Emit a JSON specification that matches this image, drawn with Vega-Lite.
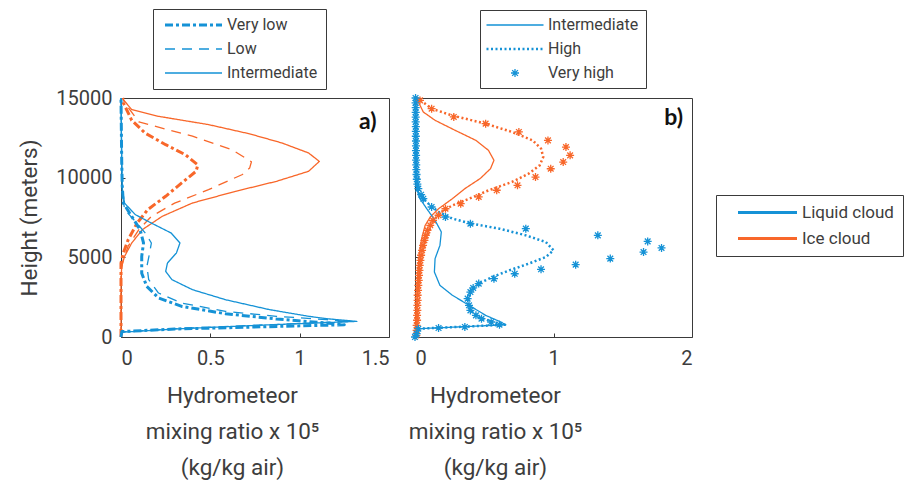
{
  "$schema": "https://vega.github.io/schema/vega-lite/v6.json",
  "autosize": {"type": "none"},
  "padding": {"left": 121, "top": 98, "right": 791, "bottom": 391},
  "background": "white",
  "spacing": 26,
  "bounds": "flush",
  "config": {
    "font": "Roboto",
    "view": {"stroke": "#3a3a3a", "strokeWidth": 1},
    "axis": {"domain": false, "grid": false, "ticks": true, "tickSize": -4, "tickColor": "#3a3a3a", "labelFont": "Roboto", "labelFontSize": 20, "labelColor": "#3d3d3d", "titleFont": "Roboto", "titleFontSize": 22.5, "titleColor": "#3d3d3d", "titleFontWeight": "normal"},
    "legend": {"labelFont": "Roboto", "labelColor": "#3d3d3d", "strokeColor": "#3a3a3a", "fillColor": "white"}
  },
  "datasets": {
    "a": [
      {"phase": "Ice cloud", "scenario": "Intermediate", "h": 15000, "x": 0.01},
      {"phase": "Ice cloud", "scenario": "Intermediate", "h": 14900, "x": 0.013},
      {"phase": "Ice cloud", "scenario": "Intermediate", "h": 14270, "x": 0.06},
      {"phase": "Ice cloud", "scenario": "Intermediate", "h": 13850, "x": 0.21},
      {"phase": "Ice cloud", "scenario": "Intermediate", "h": 13330, "x": 0.49},
      {"phase": "Ice cloud", "scenario": "Intermediate", "h": 12750, "x": 0.72},
      {"phase": "Ice cloud", "scenario": "Intermediate", "h": 12180, "x": 0.9},
      {"phase": "Ice cloud", "scenario": "Intermediate", "h": 11550, "x": 1.05},
      {"phase": "Ice cloud", "scenario": "Intermediate", "h": 11020, "x": 1.11},
      {"phase": "Ice cloud", "scenario": "Intermediate", "h": 10400, "x": 1.05},
      {"phase": "Ice cloud", "scenario": "Intermediate", "h": 9770, "x": 0.87},
      {"phase": "Ice cloud", "scenario": "Intermediate", "h": 9140, "x": 0.64},
      {"phase": "Ice cloud", "scenario": "Intermediate", "h": 8410, "x": 0.4},
      {"phase": "Ice cloud", "scenario": "Intermediate", "h": 7570, "x": 0.23},
      {"phase": "Ice cloud", "scenario": "Intermediate", "h": 6740, "x": 0.12},
      {"phase": "Ice cloud", "scenario": "Intermediate", "h": 5900, "x": 0.06},
      {"phase": "Ice cloud", "scenario": "Intermediate", "h": 5060, "x": 0.02},
      {"phase": "Ice cloud", "scenario": "Intermediate", "h": 4440, "x": 0.004},
      {"phase": "Ice cloud", "scenario": "Intermediate", "h": 3500, "x": 0},
      {"phase": "Ice cloud", "scenario": "Intermediate", "h": 2000, "x": 0},
      {"phase": "Ice cloud", "scenario": "Intermediate", "h": 0, "x": 0},
      {"phase": "Ice cloud", "scenario": "Low", "h": 15000, "x": 0.01},
      {"phase": "Ice cloud", "scenario": "Low", "h": 14700, "x": 0.02},
      {"phase": "Ice cloud", "scenario": "Low", "h": 13500, "x": 0.1},
      {"phase": "Ice cloud", "scenario": "Low", "h": 12600, "x": 0.4},
      {"phase": "Ice cloud", "scenario": "Low", "h": 11760, "x": 0.62},
      {"phase": "Ice cloud", "scenario": "Low", "h": 11000, "x": 0.73},
      {"phase": "Ice cloud", "scenario": "Low", "h": 10600, "x": 0.72},
      {"phase": "Ice cloud", "scenario": "Low", "h": 10200, "x": 0.68},
      {"phase": "Ice cloud", "scenario": "Low", "h": 9250, "x": 0.49},
      {"phase": "Ice cloud", "scenario": "Low", "h": 8400, "x": 0.3},
      {"phase": "Ice cloud", "scenario": "Low", "h": 7570, "x": 0.17},
      {"phase": "Ice cloud", "scenario": "Low", "h": 6740, "x": 0.1},
      {"phase": "Ice cloud", "scenario": "Low", "h": 5700, "x": 0.04},
      {"phase": "Ice cloud", "scenario": "Low", "h": 4850, "x": 0.013},
      {"phase": "Ice cloud", "scenario": "Low", "h": 4200, "x": 0},
      {"phase": "Ice cloud", "scenario": "Low", "h": 2000, "x": 0},
      {"phase": "Ice cloud", "scenario": "Low", "h": 0, "x": 0},
      {"phase": "Ice cloud", "scenario": "Very low", "h": 15000, "x": 0.01},
      {"phase": "Ice cloud", "scenario": "Very low", "h": 14700, "x": 0.013},
      {"phase": "Ice cloud", "scenario": "Very low", "h": 13600, "x": 0.06},
      {"phase": "Ice cloud", "scenario": "Very low", "h": 12800, "x": 0.135},
      {"phase": "Ice cloud", "scenario": "Very low", "h": 12070, "x": 0.25},
      {"phase": "Ice cloud", "scenario": "Very low", "h": 11440, "x": 0.36},
      {"phase": "Ice cloud", "scenario": "Very low", "h": 10800, "x": 0.43},
      {"phase": "Ice cloud", "scenario": "Very low", "h": 10400, "x": 0.42},
      {"phase": "Ice cloud", "scenario": "Very low", "h": 9670, "x": 0.34},
      {"phase": "Ice cloud", "scenario": "Very low", "h": 8830, "x": 0.25},
      {"phase": "Ice cloud", "scenario": "Very low", "h": 8000, "x": 0.15},
      {"phase": "Ice cloud", "scenario": "Very low", "h": 7150, "x": 0.09},
      {"phase": "Ice cloud", "scenario": "Very low", "h": 6100, "x": 0.04},
      {"phase": "Ice cloud", "scenario": "Very low", "h": 5270, "x": 0.013},
      {"phase": "Ice cloud", "scenario": "Very low", "h": 4640, "x": 0},
      {"phase": "Ice cloud", "scenario": "Very low", "h": 2000, "x": 0},
      {"phase": "Ice cloud", "scenario": "Very low", "h": 0, "x": 0},
      {"phase": "Liquid cloud", "scenario": "Intermediate", "h": 0, "x": 0},
      {"phase": "Liquid cloud", "scenario": "Intermediate", "h": 300, "x": 0.005},
      {"phase": "Liquid cloud", "scenario": "Intermediate", "h": 500, "x": 0.3},
      {"phase": "Liquid cloud", "scenario": "Intermediate", "h": 750, "x": 0.8},
      {"phase": "Liquid cloud", "scenario": "Intermediate", "h": 980, "x": 1.32},
      {"phase": "Liquid cloud", "scenario": "Intermediate", "h": 1150, "x": 1.15},
      {"phase": "Liquid cloud", "scenario": "Intermediate", "h": 1300, "x": 1.05},
      {"phase": "Liquid cloud", "scenario": "Intermediate", "h": 1720, "x": 0.83},
      {"phase": "Liquid cloud", "scenario": "Intermediate", "h": 2340, "x": 0.585},
      {"phase": "Liquid cloud", "scenario": "Intermediate", "h": 2970, "x": 0.4},
      {"phase": "Liquid cloud", "scenario": "Intermediate", "h": 3600, "x": 0.285},
      {"phase": "Liquid cloud", "scenario": "Intermediate", "h": 4120, "x": 0.25},
      {"phase": "Liquid cloud", "scenario": "Intermediate", "h": 4640, "x": 0.26},
      {"phase": "Liquid cloud", "scenario": "Intermediate", "h": 5270, "x": 0.31},
      {"phase": "Liquid cloud", "scenario": "Intermediate", "h": 5900, "x": 0.33},
      {"phase": "Liquid cloud", "scenario": "Intermediate", "h": 6530, "x": 0.28},
      {"phase": "Liquid cloud", "scenario": "Intermediate", "h": 7150, "x": 0.17},
      {"phase": "Liquid cloud", "scenario": "Intermediate", "h": 7680, "x": 0.08},
      {"phase": "Liquid cloud", "scenario": "Intermediate", "h": 8400, "x": 0.02},
      {"phase": "Liquid cloud", "scenario": "Intermediate", "h": 9250, "x": 0.008},
      {"phase": "Liquid cloud", "scenario": "Intermediate", "h": 11000, "x": 0.004},
      {"phase": "Liquid cloud", "scenario": "Intermediate", "h": 13000, "x": 0.002},
      {"phase": "Liquid cloud", "scenario": "Intermediate", "h": 15000, "x": 0},
      {"phase": "Liquid cloud", "scenario": "Low", "h": 0, "x": 0},
      {"phase": "Liquid cloud", "scenario": "Low", "h": 320, "x": 0.005},
      {"phase": "Liquid cloud", "scenario": "Low", "h": 550, "x": 0.35},
      {"phase": "Liquid cloud", "scenario": "Low", "h": 780, "x": 0.85},
      {"phase": "Liquid cloud", "scenario": "Low", "h": 980, "x": 1.28},
      {"phase": "Liquid cloud", "scenario": "Low", "h": 1090, "x": 1.15},
      {"phase": "Liquid cloud", "scenario": "Low", "h": 1300, "x": 0.87},
      {"phase": "Liquid cloud", "scenario": "Low", "h": 1610, "x": 0.585},
      {"phase": "Liquid cloud", "scenario": "Low", "h": 2130, "x": 0.34},
      {"phase": "Liquid cloud", "scenario": "Low", "h": 2760, "x": 0.21},
      {"phase": "Liquid cloud", "scenario": "Low", "h": 3600, "x": 0.155},
      {"phase": "Liquid cloud", "scenario": "Low", "h": 4440, "x": 0.145},
      {"phase": "Liquid cloud", "scenario": "Low", "h": 5270, "x": 0.16},
      {"phase": "Liquid cloud", "scenario": "Low", "h": 5900, "x": 0.17},
      {"phase": "Liquid cloud", "scenario": "Low", "h": 6530, "x": 0.135},
      {"phase": "Liquid cloud", "scenario": "Low", "h": 7260, "x": 0.08},
      {"phase": "Liquid cloud", "scenario": "Low", "h": 8000, "x": 0.02},
      {"phase": "Liquid cloud", "scenario": "Low", "h": 9000, "x": 0.008},
      {"phase": "Liquid cloud", "scenario": "Low", "h": 11000, "x": 0.004},
      {"phase": "Liquid cloud", "scenario": "Low", "h": 13000, "x": 0.002},
      {"phase": "Liquid cloud", "scenario": "Low", "h": 15000, "x": 0},
      {"phase": "Liquid cloud", "scenario": "Very low", "h": 0, "x": 0},
      {"phase": "Liquid cloud", "scenario": "Very low", "h": 340, "x": 0.005},
      {"phase": "Liquid cloud", "scenario": "Very low", "h": 500, "x": 0.3},
      {"phase": "Liquid cloud", "scenario": "Very low", "h": 770, "x": 1.25},
      {"phase": "Liquid cloud", "scenario": "Very low", "h": 880, "x": 1.15},
      {"phase": "Liquid cloud", "scenario": "Very low", "h": 1130, "x": 0.87},
      {"phase": "Liquid cloud", "scenario": "Very low", "h": 1460, "x": 0.585},
      {"phase": "Liquid cloud", "scenario": "Very low", "h": 1920, "x": 0.34},
      {"phase": "Liquid cloud", "scenario": "Very low", "h": 2450, "x": 0.21},
      {"phase": "Liquid cloud", "scenario": "Very low", "h": 3180, "x": 0.144},
      {"phase": "Liquid cloud", "scenario": "Very low", "h": 4000, "x": 0.116},
      {"phase": "Liquid cloud", "scenario": "Very low", "h": 5060, "x": 0.116},
      {"phase": "Liquid cloud", "scenario": "Very low", "h": 5900, "x": 0.126},
      {"phase": "Liquid cloud", "scenario": "Very low", "h": 6740, "x": 0.107},
      {"phase": "Liquid cloud", "scenario": "Very low", "h": 7570, "x": 0.06},
      {"phase": "Liquid cloud", "scenario": "Very low", "h": 8400, "x": 0.013},
      {"phase": "Liquid cloud", "scenario": "Very low", "h": 9500, "x": 0.007},
      {"phase": "Liquid cloud", "scenario": "Very low", "h": 11000, "x": 0.004},
      {"phase": "Liquid cloud", "scenario": "Very low", "h": 13000, "x": 0.002},
      {"phase": "Liquid cloud", "scenario": "Very low", "h": 15000, "x": 0}
    ],
    "b": [
      {"phase": "Ice cloud", "scenario": "Intermediate", "h": 15000, "x": 0.01},
      {"phase": "Ice cloud", "scenario": "Intermediate", "h": 14750, "x": 0.024},
      {"phase": "Ice cloud", "scenario": "Intermediate", "h": 14120, "x": 0.06},
      {"phase": "Ice cloud", "scenario": "Intermediate", "h": 13600, "x": 0.145},
      {"phase": "Ice cloud", "scenario": "Intermediate", "h": 12970, "x": 0.29},
      {"phase": "Ice cloud", "scenario": "Intermediate", "h": 12340, "x": 0.44},
      {"phase": "Ice cloud", "scenario": "Intermediate", "h": 11720, "x": 0.53},
      {"phase": "Ice cloud", "scenario": "Intermediate", "h": 11090, "x": 0.57},
      {"phase": "Ice cloud", "scenario": "Intermediate", "h": 10560, "x": 0.545},
      {"phase": "Ice cloud", "scenario": "Intermediate", "h": 9940, "x": 0.47},
      {"phase": "Ice cloud", "scenario": "Intermediate", "h": 9310, "x": 0.36},
      {"phase": "Ice cloud", "scenario": "Intermediate", "h": 8680, "x": 0.27},
      {"phase": "Ice cloud", "scenario": "Intermediate", "h": 8050, "x": 0.17},
      {"phase": "Ice cloud", "scenario": "Intermediate", "h": 7530, "x": 0.11},
      {"phase": "Ice cloud", "scenario": "Intermediate", "h": 7000, "x": 0.073},
      {"phase": "Ice cloud", "scenario": "Intermediate", "h": 6170, "x": 0.048},
      {"phase": "Ice cloud", "scenario": "Intermediate", "h": 5130, "x": 0.03},
      {"phase": "Ice cloud", "scenario": "Intermediate", "h": 3870, "x": 0.02},
      {"phase": "Ice cloud", "scenario": "Intermediate", "h": 1990, "x": 0.012},
      {"phase": "Ice cloud", "scenario": "Intermediate", "h": 520, "x": 0.005},
      {"phase": "Ice cloud", "scenario": "Intermediate", "h": 0, "x": 0},
      {"phase": "Ice cloud", "scenario": "High", "h": 15000, "x": 0.01},
      {"phase": "Ice cloud", "scenario": "High", "h": 14960, "x": 0.024},
      {"phase": "Ice cloud", "scenario": "High", "h": 14330, "x": 0.12},
      {"phase": "Ice cloud", "scenario": "High", "h": 13900, "x": 0.27},
      {"phase": "Ice cloud", "scenario": "High", "h": 13390, "x": 0.51},
      {"phase": "Ice cloud", "scenario": "High", "h": 12870, "x": 0.7},
      {"phase": "Ice cloud", "scenario": "High", "h": 12340, "x": 0.85},
      {"phase": "Ice cloud", "scenario": "High", "h": 11820, "x": 0.91},
      {"phase": "Ice cloud", "scenario": "High", "h": 11300, "x": 0.926},
      {"phase": "Ice cloud", "scenario": "High", "h": 10770, "x": 0.9},
      {"phase": "Ice cloud", "scenario": "High", "h": 10250, "x": 0.82},
      {"phase": "Ice cloud", "scenario": "High", "h": 9730, "x": 0.7},
      {"phase": "Ice cloud", "scenario": "High", "h": 9200, "x": 0.53},
      {"phase": "Ice cloud", "scenario": "High", "h": 8680, "x": 0.39},
      {"phase": "Ice cloud", "scenario": "High", "h": 8260, "x": 0.27},
      {"phase": "Ice cloud", "scenario": "High", "h": 7850, "x": 0.19},
      {"phase": "Ice cloud", "scenario": "High", "h": 7430, "x": 0.145},
      {"phase": "Ice cloud", "scenario": "High", "h": 6800, "x": 0.11},
      {"phase": "Ice cloud", "scenario": "High", "h": 5960, "x": 0.073},
      {"phase": "Ice cloud", "scenario": "High", "h": 4920, "x": 0.048},
      {"phase": "Ice cloud", "scenario": "High", "h": 3660, "x": 0.03},
      {"phase": "Ice cloud", "scenario": "High", "h": 1990, "x": 0.02},
      {"phase": "Ice cloud", "scenario": "High", "h": 520, "x": 0.012},
      {"phase": "Ice cloud", "scenario": "High", "h": 0, "x": 0},
      {"phase": "Liquid cloud", "scenario": "Intermediate", "h": 15000, "x": 0.003},
      {"phase": "Liquid cloud", "scenario": "Intermediate", "h": 12000, "x": 0.004},
      {"phase": "Liquid cloud", "scenario": "Intermediate", "h": 10000, "x": 0.006},
      {"phase": "Liquid cloud", "scenario": "Intermediate", "h": 9310, "x": 0.012},
      {"phase": "Liquid cloud", "scenario": "Intermediate", "h": 8680, "x": 0.036},
      {"phase": "Liquid cloud", "scenario": "Intermediate", "h": 8050, "x": 0.085},
      {"phase": "Liquid cloud", "scenario": "Intermediate", "h": 7320, "x": 0.145},
      {"phase": "Liquid cloud", "scenario": "Intermediate", "h": 6590, "x": 0.19},
      {"phase": "Liquid cloud", "scenario": "Intermediate", "h": 5750, "x": 0.18},
      {"phase": "Liquid cloud", "scenario": "Intermediate", "h": 4920, "x": 0.145},
      {"phase": "Liquid cloud", "scenario": "Intermediate", "h": 4080, "x": 0.14},
      {"phase": "Liquid cloud", "scenario": "Intermediate", "h": 3240, "x": 0.18},
      {"phase": "Liquid cloud", "scenario": "Intermediate", "h": 2620, "x": 0.27},
      {"phase": "Liquid cloud", "scenario": "Intermediate", "h": 1990, "x": 0.39},
      {"phase": "Liquid cloud", "scenario": "Intermediate", "h": 1360, "x": 0.51},
      {"phase": "Liquid cloud", "scenario": "Intermediate", "h": 980, "x": 0.61},
      {"phase": "Liquid cloud", "scenario": "Intermediate", "h": 770, "x": 0.655},
      {"phase": "Liquid cloud", "scenario": "Intermediate", "h": 650, "x": 0.36},
      {"phase": "Liquid cloud", "scenario": "Intermediate", "h": 520, "x": 0.024},
      {"phase": "Liquid cloud", "scenario": "Intermediate", "h": 0, "x": 0},
      {"phase": "Liquid cloud", "scenario": "High", "h": 15000, "x": 0.004},
      {"phase": "Liquid cloud", "scenario": "High", "h": 12000, "x": 0.006},
      {"phase": "Liquid cloud", "scenario": "High", "h": 10000, "x": 0.008},
      {"phase": "Liquid cloud", "scenario": "High", "h": 9310, "x": 0.012},
      {"phase": "Liquid cloud", "scenario": "High", "h": 8890, "x": 0.036},
      {"phase": "Liquid cloud", "scenario": "High", "h": 8370, "x": 0.097},
      {"phase": "Liquid cloud", "scenario": "High", "h": 7850, "x": 0.17},
      {"phase": "Liquid cloud", "scenario": "High", "h": 7430, "x": 0.27},
      {"phase": "Liquid cloud", "scenario": "High", "h": 7110, "x": 0.41},
      {"phase": "Liquid cloud", "scenario": "High", "h": 6800, "x": 0.61},
      {"phase": "Liquid cloud", "scenario": "High", "h": 6380, "x": 0.8},
      {"phase": "Liquid cloud", "scenario": "High", "h": 5960, "x": 0.945},
      {"phase": "Liquid cloud", "scenario": "High", "h": 5440, "x": 1.0},
      {"phase": "Liquid cloud", "scenario": "High", "h": 5020, "x": 0.945},
      {"phase": "Liquid cloud", "scenario": "High", "h": 4600, "x": 0.82},
      {"phase": "Liquid cloud", "scenario": "High", "h": 4180, "x": 0.68},
      {"phase": "Liquid cloud", "scenario": "High", "h": 3770, "x": 0.56},
      {"phase": "Liquid cloud", "scenario": "High", "h": 3350, "x": 0.46},
      {"phase": "Liquid cloud", "scenario": "High", "h": 2820, "x": 0.4},
      {"phase": "Liquid cloud", "scenario": "High", "h": 2200, "x": 0.38},
      {"phase": "Liquid cloud", "scenario": "High", "h": 1670, "x": 0.4},
      {"phase": "Liquid cloud", "scenario": "High", "h": 1260, "x": 0.46},
      {"phase": "Liquid cloud", "scenario": "High", "h": 940, "x": 0.56},
      {"phase": "Liquid cloud", "scenario": "High", "h": 770, "x": 0.65},
      {"phase": "Liquid cloud", "scenario": "High", "h": 650, "x": 0.36},
      {"phase": "Liquid cloud", "scenario": "High", "h": 520, "x": 0.024},
      {"phase": "Liquid cloud", "scenario": "High", "h": 100, "x": 0.005},
      {"phase": "Liquid cloud", "scenario": "High", "h": 0, "x": 0}
    ],
    "bs": [
      {"phase": "Ice cloud", "h": 14850, "x": 0.036},
      {"phase": "Ice cloud", "h": 14330, "x": 0.12},
      {"phase": "Ice cloud", "h": 13810, "x": 0.28},
      {"phase": "Ice cloud", "h": 13390, "x": 0.51},
      {"phase": "Ice cloud", "h": 12870, "x": 0.75},
      {"phase": "Ice cloud", "h": 12340, "x": 0.96},
      {"phase": "Ice cloud", "h": 11920, "x": 1.09},
      {"phase": "Ice cloud", "h": 11400, "x": 1.12},
      {"phase": "Ice cloud", "h": 10980, "x": 1.07},
      {"phase": "Ice cloud", "h": 10560, "x": 0.98},
      {"phase": "Ice cloud", "h": 10040, "x": 0.87},
      {"phase": "Ice cloud", "h": 9520, "x": 0.74},
      {"phase": "Ice cloud", "h": 9210, "x": 0.59},
      {"phase": "Ice cloud", "h": 8790, "x": 0.46},
      {"phase": "Ice cloud", "h": 8370, "x": 0.33},
      {"phase": "Ice cloud", "h": 8050, "x": 0.22},
      {"phase": "Ice cloud", "h": 7640, "x": 0.17},
      {"phase": "Ice cloud", "h": 7320, "x": 0.13},
      {"phase": "Ice cloud", "h": 7010, "x": 0.11},
      {"phase": "Ice cloud", "h": 6690, "x": 0.09},
      {"phase": "Ice cloud", "h": 6380, "x": 0.078},
      {"phase": "Ice cloud", "h": 6070, "x": 0.068},
      {"phase": "Ice cloud", "h": 5750, "x": 0.058},
      {"phase": "Ice cloud", "h": 5440, "x": 0.051},
      {"phase": "Ice cloud", "h": 5130, "x": 0.044},
      {"phase": "Ice cloud", "h": 4810, "x": 0.039},
      {"phase": "Ice cloud", "h": 4500, "x": 0.034},
      {"phase": "Ice cloud", "h": 4180, "x": 0.032},
      {"phase": "Ice cloud", "h": 3870, "x": 0.029},
      {"phase": "Ice cloud", "h": 3560, "x": 0.027},
      {"phase": "Ice cloud", "h": 3240, "x": 0.024},
      {"phase": "Ice cloud", "h": 2930, "x": 0.022},
      {"phase": "Ice cloud", "h": 2620, "x": 0.019},
      {"phase": "Ice cloud", "h": 2300, "x": 0.019},
      {"phase": "Ice cloud", "h": 1990, "x": 0.017},
      {"phase": "Ice cloud", "h": 1670, "x": 0.017},
      {"phase": "Ice cloud", "h": 1360, "x": 0.015},
      {"phase": "Ice cloud", "h": 1050, "x": 0.015},
      {"phase": "Ice cloud", "h": 730, "x": 0.012},
      {"phase": "Ice cloud", "h": 420, "x": 0.012},
      {"phase": "Ice cloud", "h": 100, "x": 0.01},
      {"phase": "Liquid cloud", "h": 15000, "x": 0.004},
      {"phase": "Liquid cloud", "h": 14700, "x": 0.004},
      {"phase": "Liquid cloud", "h": 14400, "x": 0.005},
      {"phase": "Liquid cloud", "h": 14100, "x": 0.005},
      {"phase": "Liquid cloud", "h": 13800, "x": 0.005},
      {"phase": "Liquid cloud", "h": 13500, "x": 0.005},
      {"phase": "Liquid cloud", "h": 13200, "x": 0.006},
      {"phase": "Liquid cloud", "h": 12900, "x": 0.006},
      {"phase": "Liquid cloud", "h": 12600, "x": 0.006},
      {"phase": "Liquid cloud", "h": 12300, "x": 0.007},
      {"phase": "Liquid cloud", "h": 12000, "x": 0.007},
      {"phase": "Liquid cloud", "h": 11700, "x": 0.007},
      {"phase": "Liquid cloud", "h": 11400, "x": 0.008},
      {"phase": "Liquid cloud", "h": 11100, "x": 0.008},
      {"phase": "Liquid cloud", "h": 10800, "x": 0.009},
      {"phase": "Liquid cloud", "h": 10500, "x": 0.01},
      {"phase": "Liquid cloud", "h": 10200, "x": 0.011},
      {"phase": "Liquid cloud", "h": 9900, "x": 0.013},
      {"phase": "Liquid cloud", "h": 9600, "x": 0.017},
      {"phase": "Liquid cloud", "h": 9310, "x": 0.024},
      {"phase": "Liquid cloud", "h": 8930, "x": 0.044},
      {"phase": "Liquid cloud", "h": 8680, "x": 0.06},
      {"phase": "Liquid cloud", "h": 8160, "x": 0.12},
      {"phase": "Liquid cloud", "h": 7530, "x": 0.22},
      {"phase": "Liquid cloud", "h": 7110, "x": 0.4},
      {"phase": "Liquid cloud", "h": 6800, "x": 0.8},
      {"phase": "Liquid cloud", "h": 6380, "x": 1.32},
      {"phase": "Liquid cloud", "h": 6000, "x": 1.68},
      {"phase": "Liquid cloud", "h": 5590, "x": 1.78},
      {"phase": "Liquid cloud", "h": 5330, "x": 1.65},
      {"phase": "Liquid cloud", "h": 4920, "x": 1.41},
      {"phase": "Liquid cloud", "h": 4540, "x": 1.16},
      {"phase": "Liquid cloud", "h": 4250, "x": 0.91},
      {"phase": "Liquid cloud", "h": 3970, "x": 0.72},
      {"phase": "Liquid cloud", "h": 3660, "x": 0.57},
      {"phase": "Liquid cloud", "h": 3350, "x": 0.46},
      {"phase": "Liquid cloud", "h": 3080, "x": 0.42},
      {"phase": "Liquid cloud", "h": 2820, "x": 0.4},
      {"phase": "Liquid cloud", "h": 2410, "x": 0.38},
      {"phase": "Liquid cloud", "h": 1990, "x": 0.39},
      {"phase": "Liquid cloud", "h": 1670, "x": 0.4},
      {"phase": "Liquid cloud", "h": 1360, "x": 0.44},
      {"phase": "Liquid cloud", "h": 1150, "x": 0.48},
      {"phase": "Liquid cloud", "h": 940, "x": 0.55},
      {"phase": "Liquid cloud", "h": 770, "x": 0.61},
      {"phase": "Liquid cloud", "h": 630, "x": 0.36},
      {"phase": "Liquid cloud", "h": 565, "x": 0.17},
      {"phase": "Liquid cloud", "h": 520, "x": 0.024},
      {"phase": "Liquid cloud", "h": 210, "x": 0.012},
      {"phase": "Liquid cloud", "h": 0, "x": 0}
    ]
  },
  "hconcat": [
    {
      "width": 268,
      "height": 239,
      "layer": [
        {
          "data": {"name": "a"},
          "mark": {"type": "line", "strokeCap": "butt", "strokeJoin": "round"},
          "encoding": {
            "x": {"field": "x", "type": "quantitative", "scale": {"domain": [0, 1.5], "nice": false, "zero": false},
              "axis": {"values": [0, 0.5, 1, 1.5], "format": "~g", "labelPadding": 15, "title": ["Hydrometeor", "mixing ratio x 10⁵", "(kg/kg air)"], "titleX": 111, "titleY": 47, "titleBaseline": "top", "titleAlign": "center", "titleAngle": 0, "titleLineHeight": 36}},
            "y": {"field": "h", "type": "quantitative", "scale": {"domain": [0, 15000], "nice": false},
              "axis": {"values": [0, 5000, 10000, 15000], "format": "d", "labelPadding": 13, "title": "Height (meters)", "titlePadding": 14}},
            "color": {"field": "phase", "type": "nominal", "scale": {"domain": ["Liquid cloud", "Ice cloud"], "range": ["#1592d6", "#f8672a"]}, "legend": null},
            "strokeDash": {"field": "scenario", "type": "nominal",
              "scale": {"domain": ["Very low", "Low", "Intermediate"], "range": [[8, 3, 3, 3], [10, 7], [1, 0]]},
              "legend": {"title": null, "orient": "none", "legendX": 32, "legendY": -89, "symbolType": "stroke", "symbolSize": 3249, "symbolStrokeColor": "#1592d6", "labelFontSize": 16, "padding": 8, "symbolOffset": 24.5, "rowPadding": 8, "labelOffset": 25.5, "strokeColor": "#3a3a3a",
                "encode": {"symbols": {"update": {"stroke": {"value": "#1592d6"}, "strokeWidth": {"signal": "datum.value === 'Very low' ? 3 : 1.3"}}}}}},
            "strokeWidth": {"condition": {"test": "datum.scenario === 'Very low'", "value": 3}, "value": 1.3},
            "order": {"field": "h", "type": "quantitative"}
          }
        },
        {
          "data": {"values": [{"label": "a)", "x": 1.43, "h": 13490}]},
          "mark": {"type": "text", "align": "right", "baseline": "middle", "font": "Lato", "fontWeight": "bold", "fontSize": 23, "color": "#111111"},
          "encoding": {
            "x": {"field": "x", "type": "quantitative"},
            "y": {"field": "h", "type": "quantitative"},
            "text": {"field": "label"}
          }
        }
      ]
    },
    {
      "width": 277,
      "height": 239,
      "layer": [
        {
          "data": {"name": "b"},
          "mark": {"type": "line", "strokeCap": "butt", "strokeJoin": "round"},
          "encoding": {
            "x": {"field": "x", "type": "quantitative", "scale": {"domain": [0, 2], "nice": false, "zero": false},
              "axis": {"values": [0, 1, 2], "format": "~g", "labelPadding": 15, "title": ["Hydrometeor", "mixing ratio x 10⁵", "(kg/kg air)"], "titleX": 80, "titleY": 47, "titleBaseline": "top", "titleAlign": "center", "titleAngle": 0, "titleLineHeight": 36}},
            "y": {"field": "h", "type": "quantitative", "scale": {"domain": [0, 15000], "nice": false},
              "axis": {"values": [0, 5000, 10000, 15000], "labels": false, "title": null}},
            "color": {"field": "phase", "type": "nominal", "scale": {"domain": ["Liquid cloud", "Ice cloud"], "range": ["#1592d6", "#f8672a"]},
              "legend": {"title": null, "orient": "none", "legendX": 301, "legendY": 97, "symbolType": "stroke", "symbolSize": 3481, "symbolStrokeWidth": 3, "labelFontSize": 17, "padding": 9, "symbolOffset": 34, "rowPadding": 8, "labelOffset": 26, "strokeColor": "#3a3a3a",
                "encode": {"symbols": {"update": {"strokeWidth": {"signal": "datum.value === 'none' ? 0 : 3"}}}}}},
            "strokeDash": {"field": "scenario", "type": "nominal",
              "scale": {"domain": ["Intermediate", "High", "Very high"], "range": [[1, 0], [2, 2.5], [1, 0]]},
              "legend": {"title": null, "orient": "none", "legendX": 65, "legendY": -88, "symbolType": "stroke", "symbolSize": 3249, "symbolStrokeColor": "#1592d6", "labelFontSize": 16, "padding": 7, "symbolOffset": 20, "rowPadding": 8, "labelOffset": 25, "strokeColor": "#3a3a3a",
                "encode": {"symbols": {"update": {
                  "stroke": {"value": "#1592d6"},
                  "fill": {"value": "transparent"},
                  "shape": {"signal": "datum.value === 'Very high' ? 'M-1,0L1,0M0,-1L0,1M-0.71,-0.71L0.71,0.71M-0.71,0.71L0.71,-0.71' : 'stroke'"},
                  "size": {"signal": "datum.value === 'Very high' ? 64 : 3249"},
                  "strokeWidth": {"signal": "datum.value === 'High' ? 2.5 : 1.3"},
                  "strokeDash": {"signal": "datum.value === 'High' ? [2, 2.5] : [1, 0]"}
                }}}}},
            "strokeWidth": {"condition": {"test": "datum.scenario === 'High'", "value": 2.5}, "value": 1.3},
            "order": {"field": "h", "type": "quantitative"}
          }
        },
        {
          "data": {"name": "bs"},
          "mark": {"type": "point", "filled": false, "shape": "M-1,0L1,0M0,-1L0,1M-0.71,-0.71L0.71,0.71M-0.71,0.71L0.71,-0.71", "size": 64, "strokeWidth": 1.3, "opacity": 1},
          "encoding": {
            "x": {"field": "x", "type": "quantitative"},
            "y": {"field": "h", "type": "quantitative"},
            "color": {"field": "phase", "type": "nominal"}
          }
        },
        {
          "data": {"values": [{"label": "b)", "x": 1.935, "h": 13740}]},
          "mark": {"type": "text", "align": "right", "baseline": "middle", "font": "Lato", "fontWeight": "bold", "fontSize": 23, "color": "#111111"},
          "encoding": {
            "x": {"field": "x", "type": "quantitative"},
            "y": {"field": "h", "type": "quantitative"},
            "text": {"field": "label"}
          }
        }
      ]
    }
  ],
  "resolve": {
    "scale": {"x": "independent", "color": "independent", "strokeDash": "independent"},
    "legend": {"color": "independent", "strokeDash": "independent"}
  }
}
